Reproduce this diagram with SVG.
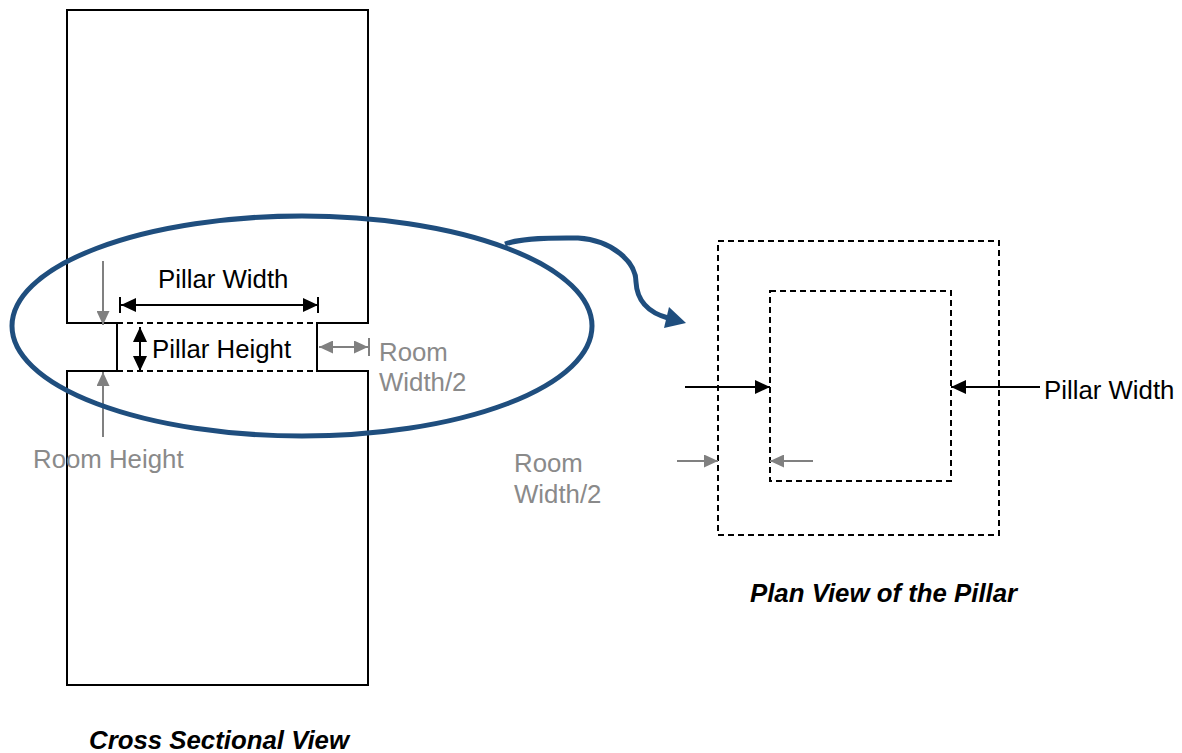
<svg xmlns="http://www.w3.org/2000/svg" width="1182" height="753" viewBox="0 0 1182 753">
<style>
.t{font-family:"Liberation Sans",Arial,sans-serif;font-size:25.8px;fill:#000}
.g{fill:#8a8a8a}
.cap{font-weight:bold;font-style:italic}
.solid{fill:none;stroke:#000;stroke-width:2}
.dash{fill:none;stroke:#000;stroke-width:2;stroke-dasharray:6 4}
.ka{stroke:#000;stroke-width:2;fill:none}
.ga{stroke:#808080;stroke-width:2;fill:none}
</style>
<defs>
<marker id="kh" viewBox="0 0 15 14" refX="15" refY="7" markerWidth="15" markerHeight="14" markerUnits="userSpaceOnUse" orient="auto-start-reverse"><path d="M0,0 L15,7 L0,14 Z" fill="#000"/></marker>
<marker id="gh" viewBox="0 0 14 13" refX="14" refY="6.5" markerWidth="14" markerHeight="13" markerUnits="userSpaceOnUse" orient="auto-start-reverse"><path d="M0,0 L14,6.5 L0,13 Z" fill="#808080"/></marker>
</defs>
<rect width="1182" height="753" fill="#fff"/>
<g id="cross-section">
<path class="solid" d="M117,323 H67 V10 H368 V323 H317 V371 H368 V685 H67 V371 H117 Z"/>
<line class="dash" x1="117" y1="323" x2="317" y2="323"/>
<line class="dash" x1="117" y1="371" x2="317" y2="371"/>
</g>
<g id="plan-view">
<rect class="dash" x="718" y="241" width="281" height="294"/>
<rect class="dash" x="770" y="291" width="181" height="190"/>
</g>
<g id="connectors">
<line class="ka" x1="121" y1="305" x2="318" y2="305" marker-start="url(#kh)" marker-end="url(#kh)"/>
<line class="ka" x1="120" y1="297" x2="120" y2="313"/>
<line class="ka" x1="318" y1="297" x2="318" y2="313"/>
<line class="ka" x1="140" y1="327" x2="140" y2="371" marker-start="url(#kh)" marker-end="url(#kh)"/>
<line class="ga" x1="103" y1="261" x2="103" y2="325" marker-end="url(#gh)"/>
<line class="ga" x1="103" y1="437" x2="103" y2="372" marker-end="url(#gh)"/>
<line class="ga" x1="319" y1="347" x2="368" y2="347" marker-start="url(#gh)" marker-end="url(#gh)"/>
<line class="ga" x1="369" y1="338" x2="369" y2="356"/>
<line class="ka" x1="685" y1="387" x2="770" y2="387" marker-end="url(#kh)"/>
<line class="ka" x1="1040" y1="387" x2="951" y2="387" marker-end="url(#kh)"/>
<line class="ga" x1="677" y1="461" x2="718" y2="461" marker-end="url(#gh)"/>
<line class="ga" x1="813" y1="461" x2="770" y2="461" marker-end="url(#gh)"/>
</g>
<g id="callout">
<ellipse cx="302" cy="326" rx="290" ry="110" fill="none" stroke="#1F4E7E" stroke-width="5"/>
<path d="M505,244 C525,237 560,238 578,238 C612,240 636,262 636,282 C637,302 650,313 668,318" fill="none" stroke="#1F4E7E" stroke-width="5"/>
<polygon points="669,307 686,323 664,328" fill="#1F4E7E"/>
</g>
<g id="labels">
<text class="t" x="158" y="288">Pillar Width</text>
<text class="t" x="152" y="358">Pillar Height</text>
<text class="t g" x="33" y="468">Room Height</text>
<text class="t g" x="379" y="361">Room</text>
<text class="t g" x="379" y="391">Width/2</text>
<text class="t g" x="514" y="472">Room</text>
<text class="t g" x="514" y="503">Width/2</text>
<text class="t" x="1044" y="399">Pillar Width</text>
<text class="t cap" x="750" y="602">Plan View of the Pillar</text>
<text class="t cap" x="89" y="749">Cross Sectional View</text>
</g>
</svg>
